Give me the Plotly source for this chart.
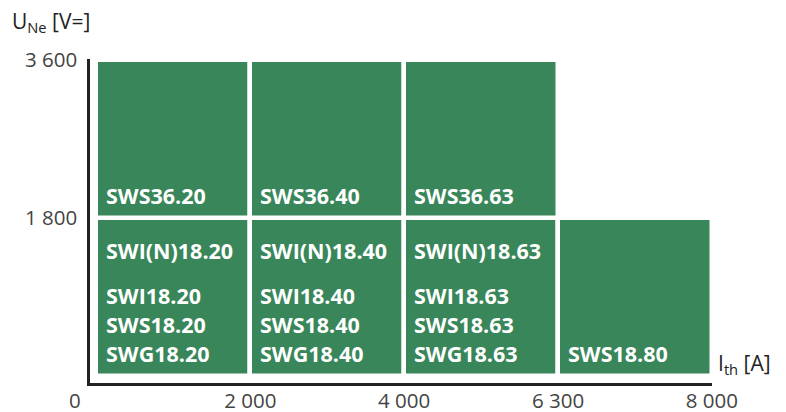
import plotly.graph_objects as go

# data
x_ticks = [1, 2, 3, 4]
x_tick_labels = ["2 000", "4 000", "6 300", "8 000"]
y_ticks = [1800, 3600]
y_tick_labels = ["1 800", "3 600"]

lower_x = [0.5, 1.5, 2.5, 3.5]
lower_height = [1800, 1800, 1800, 1800]
upper_x = [0.5, 1.5, 2.5]
upper_height = [1800, 1800, 1800]
upper_base = 1800

upper_labels = ["SWS36.20", "SWS36.40", "SWS36.63"]
lower_labels = [
    ["SWI(N)18.20", "SWI18.20", "SWS18.20", "SWG18.20"],
    ["SWI(N)18.40", "SWI18.40", "SWS18.40", "SWG18.40"],
    ["SWI(N)18.63", "SWI18.63", "SWS18.63", "SWG18.63"],
    ["SWS18.80"],
]

GREEN = "#388659"
FONT = "Open Sans"

fig = go.Figure()
fig.add_trace(go.Bar(x=lower_x, y=lower_height, base=0, width=1,
                     marker=dict(color=GREEN, line=dict(color="white", width=4.5)),
                     hoverinfo="skip", showlegend=False))
fig.add_trace(go.Bar(x=upper_x, y=upper_height, base=upper_base, width=1,
                     marker=dict(color=GREEN, line=dict(color="white", width=4.5)),
                     hoverinfo="skip", showlegend=False))

lab_font = dict(family=FONT, size=21.5, color="white", weight="bold")
for i, t in enumerate(upper_labels):
    fig.add_annotation(x=i, y=upper_base, text=t, xref="x", yref="y", showarrow=False,
                       xanchor="left", yanchor="middle", xshift=8, yshift=22, font=lab_font)
for i, group in enumerate(lower_labels):
    n = len(group)
    if n == 1:
        shifts = [22]
    else:
        shifts = [125, 80, 51, 22]
    for t, s in zip(group, shifts):
        fig.add_annotation(x=i, y=0, text=t, xref="x", yref="y", showarrow=False,
                           xanchor="left", yanchor="middle", xshift=8, yshift=s, font=lab_font)

tick_font = dict(family=FONT, size=20.5, color="#444444")
fig.add_annotation(x=0, y=0, xref="paper", yref="paper", text="0", showarrow=False,
                   xanchor="center", yanchor="top", xshift=-15, yshift=-1, font=tick_font)
title_font = dict(family=FONT, size=21, color="#222222")
fig.add_annotation(x=1, y=0, xref="paper", yref="paper", text="I<sub>th</sub> [A]", showarrow=False,
                   xanchor="left", yanchor="bottom", xshift=4, yshift=2, font=title_font)
fig.add_annotation(x=0, y=1, xref="paper", yref="paper", text="U<sub>Ne</sub> [V=]", showarrow=False,
                   xanchor="left", yanchor="middle", xshift=-80, yshift=37, font=title_font)

fig.update_layout(
    width=786, height=412,
    margin=dict(l=90, r=74, t=59, b=29, autoexpand=False),
    plot_bgcolor="white", paper_bgcolor="white",
    barmode="overlay", bargap=0,
    xaxis=dict(range=[-0.0422, 4.001], tickvals=x_ticks, ticktext=x_tick_labels, automargin=False,
               showgrid=False, zeroline=False, showline=True, linecolor="#222222", linewidth=2.5,
               ticks="", tickfont=tick_font, ticklabelstandoff=-2, fixedrange=True),
    yaxis=dict(range=[-85, 3606], tickvals=y_ticks, ticktext=y_tick_labels, automargin=False,
               showgrid=False, zeroline=False, showline=True, linecolor="#222222", linewidth=2.5,
               ticks="", tickfont=tick_font, ticklabelstandoff=6, fixedrange=True),
)

fig.write_html("out.html", config={"displayModeBar": False},
               post_script="document.body.style.margin='0';document.body.style.overflow='hidden';")
